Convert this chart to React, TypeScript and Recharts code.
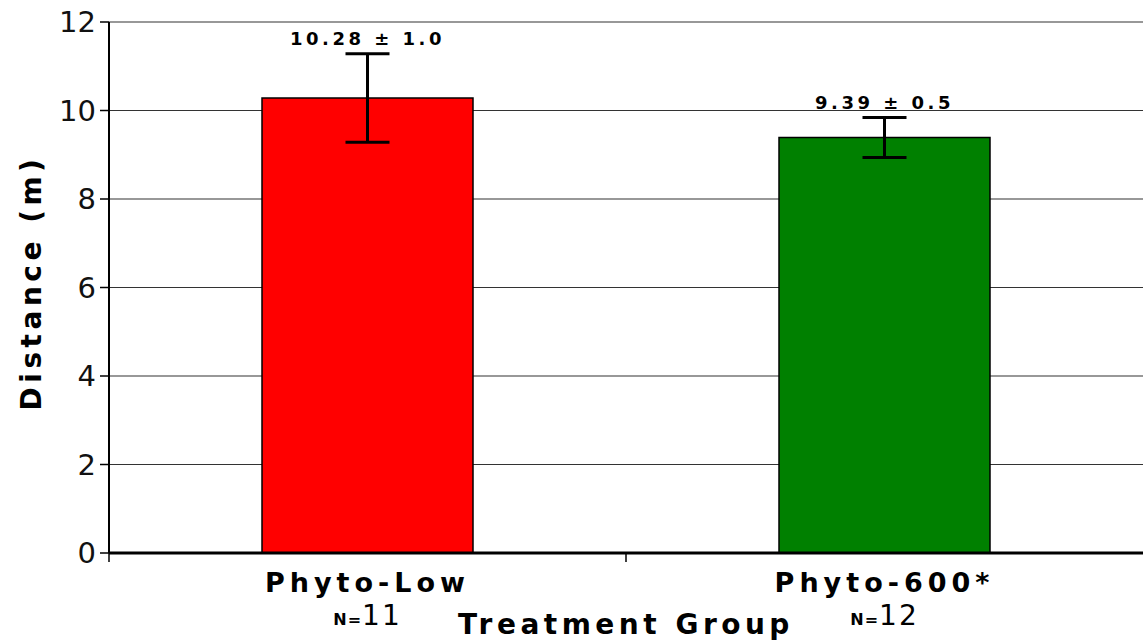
import React from "react";
import { BarChart, Bar, XAxis, YAxis, CartesianGrid, ErrorBar, LabelList, Cell } from "recharts";

const groups = ["Phyto-Low", "Phyto-600*"];
const means = [10.28, 9.39];
const errors = [1.0, 0.45];
const errorLabels = ["10.28 \u00b1 1.0", "9.39 \u00b1 0.5"];
const counts = [11, 12];
const colors = ["#ff0000", "#008000"];
const yTicks = [0, 2, 4, 6, 8, 10, 12];

const data = groups.map((g, i) => ({ group: g, mean: means[i], err: errors[i] }));

const BOLD = "'DejaVu Sans', Verdana, sans-serif";
const THIN = "'DejaVu Sans ExtraLight', 'DejaVu Sans', sans-serif";

function XTick(props: any) {
  const { x, payload, index } = props;
  const half = payload.offset ?? 0;
  const bx = x - half;
  return (
    <g>
      <line x1={bx} y1={553} x2={bx} y2={562} stroke="#000" strokeWidth={1.5} />
      <text x={x} y={592} textAnchor="middle" fontFamily={BOLD} fontWeight="bold" fontSize={27} letterSpacing={5} fill="#000">
        {payload.value}
      </text>
      <text x={x} y={625} textAnchor="middle" fill="#000">
        <tspan fontFamily={BOLD} fontWeight="bold" fontSize={16} letterSpacing={1}>N=</tspan>
        <tspan fontFamily={THIN} fontSize={28} letterSpacing={2}>{counts[index]}</tspan>
      </text>
    </g>
  );
}

function YTick(props: any) {
  const { x, y, payload } = props;
  return (
    <text x={x - 2} y={y + 10} textAnchor="end" fontFamily={THIN} fontSize={29} fill="#111">
      {payload.value}
    </text>
  );
}

function ValueLabel(props: any) {
  const { x, y, width, height, index } = props;
  const ppu = height / means[index];
  const top = y - errors[index] * ppu;
  return (
    <text x={x + width / 2} y={top - 9} textAnchor="middle" fontFamily={BOLD} fontWeight="bold" fontSize={18} letterSpacing={3.5} fill="#000">
      {errorLabels[index]}
    </text>
  );
}

export default function App() {
  return (
    <div style={{ position: "absolute", left: 0, top: 0, width: 1145, height: 642, background: "#fff" }}>
      <BarChart width={1145} height={642} data={data} margin={{ top: 22, right: 2, bottom: 0, left: 0 }} barSize={211}>
        <CartesianGrid horizontal vertical={false} stroke="#333" strokeWidth={1.2} />
        <XAxis
          dataKey="group"
          height={89}
          axisLine={{ stroke: "#000", strokeWidth: 3 }}
          tickLine={false}
          tick={<XTick />}
          interval={0}
          label={{
            content: (p: any) => (
              <text
                x={p.viewBox.x + p.viewBox.width / 2}
                y={p.viewBox.y + 81}
                textAnchor="middle"
                fontFamily={BOLD}
                fontWeight="bold"
                fontSize={28}
                letterSpacing={4.5}
                fill="#000"
              >
                Treatment Group
              </text>
            ),
          }}
        />
        <YAxis
          width={109}
          domain={[0, 12]}
          ticks={yTicks}
          interval={0}
          axisLine={{ stroke: "#000", strokeWidth: 2 }}
          tickLine={{ stroke: "#000", strokeWidth: 1.5 }}
          tickSize={9}
          tick={<YTick />}
          label={{
            content: (p: any) => {
              const cx = p.viewBox.x + 41;
              const cy = p.viewBox.y + p.viewBox.height / 2 - 5;
              return (
                <text
                  x={cx}
                  y={cy}
                  transform={`rotate(-90 ${cx} ${cy})`}
                  textAnchor="middle"
                  fontFamily={BOLD}
                  fontWeight="bold"
                  fontSize={28}
                  letterSpacing={4.5}
                  fill="#000"
                >
                  Distance (m)
                </text>
              );
            },
          }}
        />
        <Bar dataKey="mean" stroke="#000" strokeWidth={1.5} isAnimationActive={false}>
          {data.map((d, i) => (
            <Cell key={d.group} fill={colors[i]} />
          ))}
          <ErrorBar dataKey="err" width={22} strokeWidth={3} stroke="#000" direction="y" />
          <LabelList dataKey="mean" content={<ValueLabel />} />
        </Bar>
      </BarChart>
    </div>
  );
}
